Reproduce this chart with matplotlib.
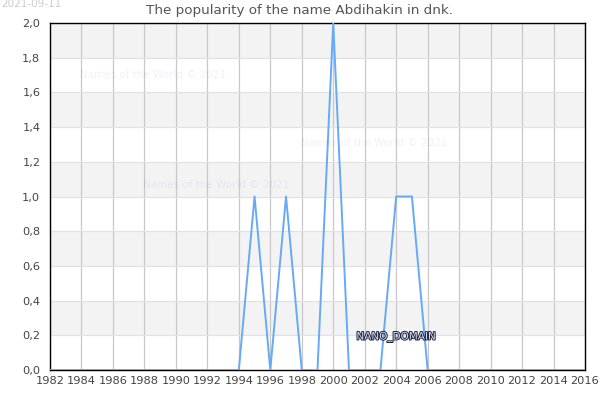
"""Popularity of a given name over time, with alternating horizontal bands."""

import matplotlib

matplotlib.use("Agg")
import matplotlib.patheffects as path_effects
import matplotlib.pyplot as plt

years = list(range(1982, 2017))
popularity = [
    0, 0, 0, 0, 0, 0, 0, 0, 0, 0, 0, 0, 0, 1, 0, 1, 0,
    0, 2, 0, 0, 0, 1, 1, 0, 0, 0, 0, 0, 0, 0, 0, 0, 0, 0,
]
x_ticks = list(range(1982, 2017, 2))
y_ticks = [0.0, 0.2, 0.4, 0.6, 0.8, 1.0, 1.2, 1.4, 1.6, 1.8, 2.0]
y_labels = ["0,0", "0,2", "0,4", "0,6", "0,8", "1,0", "1,2", "1,4", "1,6", "1,8", "2,0"]
title = "The popularity of the name Abdihakin in dnk."
date_stamp = "2021-09-11"
watermark = "Names of the World © 2021"
domain_label = "NANO_DOMAIN"

WIDTH, HEIGHT = 600, 400


def fig_xy(x, y):
    """Pixel position from the top left corner, as figure fractions."""
    return x / WIDTH, 1 - y / HEIGHT


def main():
    fig = plt.figure(figsize=(WIDTH / 100, HEIGHT / 100), dpi=100)
    ax = fig.add_axes([50 / WIDTH, 1 - 370 / HEIGHT, 535 / WIDTH, 347 / HEIGHT])

    # bands run downwards from the top, grey first
    for low, high in zip(y_ticks[-2::-2], y_ticks[-1::-2]):
        ax.axhspan(low, high, facecolor="#f3f3f3", edgecolor="none", zorder=0)

    ax.grid(axis="x", color="#c8c8c8", linewidth=0.9, zorder=1)
    ax.grid(axis="y", color="#e2e2e2", linewidth=0.9, zorder=1)
    ax.set_axisbelow(True)

    ax.plot(years, popularity, color="#66aaf5", linewidth=1.4, zorder=3)

    ax.set_xlim(years[0], years[-1])
    ax.set_ylim(0, 2)
    ax.set_xticks(x_ticks)
    ax.set_yticks(y_ticks)
    ax.set_yticklabels(y_labels)
    ax.tick_params(axis="both", length=0, labelsize=8.2, labelcolor="#444444")
    ax.tick_params(axis="x", pad=4)
    ax.tick_params(axis="y", pad=7)

    for name in ("top", "right", "bottom", "left"):
        ax.spines[name].set_color("black")
        ax.spines[name].set_linewidth(1)

    x, y = fig_xy(299.5, 10.5)
    fig.text(x, y, title, ha="center", va="center", fontsize=9.7, color="#555555")
    x, y = fig_xy(1, 4)
    fig.text(x, y, date_stamp, ha="left", va="center", fontsize=7.5, color="#cccccc")

    # faint blue, so it reads darker on the grey bands than on the white ones
    for px, py in ((80, 75), (143, 185), (301, 143)):
        x, y = fig_xy(px, py)
        fig.text(x, y, watermark, ha="left", va="center", fontsize=7.5,
                 color="#0000cc", alpha=0.06, zorder=4)

    x, y = fig_xy(396, 337)
    fig.text(
        x, y, domain_label, ha="center", va="center", fontsize=7.5, color="#dcdcf0",
        zorder=5,
        path_effects=[path_effects.withStroke(linewidth=1.4, foreground="#1c2340")],
    )

    fig.savefig("out.png", dpi=100)


if __name__ == "__main__":
    main()
